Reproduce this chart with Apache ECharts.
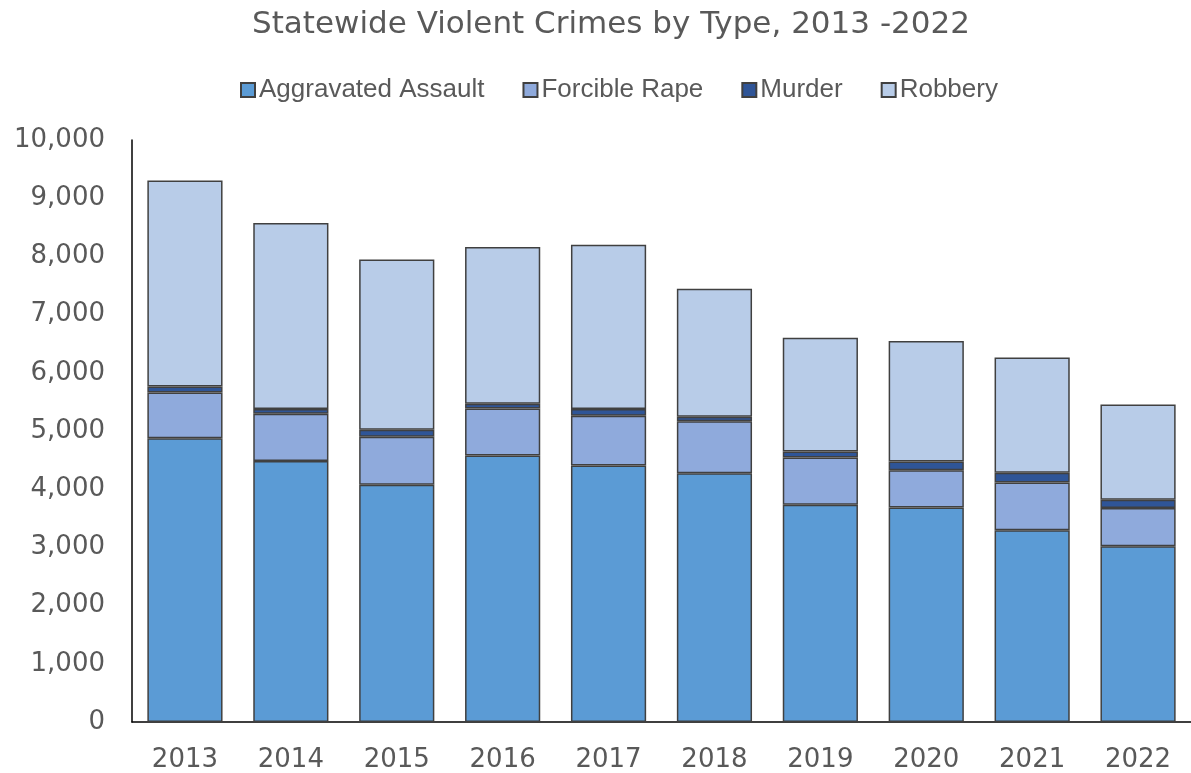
<!DOCTYPE html>
<html>
<head>
<meta charset="utf-8">
<script src="https://cdn.jsdelivr.net/npm/echarts@6/dist/echarts.min.js"></script>
<style>html,body{margin:0;padding:0;background:#fff}#c{width:1191px;height:773px}</style>
</head>
<body>
<div id="c"></div>
<script>
const years = ['2013','2014','2015','2016','2017','2018','2019','2020','2021','2022'];
const aggravatedAssault = [4875, 4486, 4075, 4577, 4406, 4275, 3733, 3687, 3293, 3019];
const forcibleRape      = [788, 810, 828, 811, 856, 891, 810, 640, 822, 657];
const murder            = [102, 81, 120, 80, 115, 79, 103, 148, 166, 142];
const robbery           = [3538, 3196, 2922, 2694, 2825, 2198, 1958, 2072, 1981, 1639];
const yTicks = [0,1000,2000,3000,4000,5000,6000,7000,8000,9000,10000];

const FONT = '"Liberation Sans", Arial, sans-serif';
const WIDE = '"DejaVu Sans", sans-serif';
const TXT = '#595959';
const chart = echarts.init(document.getElementById('c'), null, {renderer:'canvas'});
function s(name, data, color){
  return {name, type:'bar', stack:'total', data, barCategoryGap:'29%',
    itemStyle:{color, borderColor:'#404040', borderWidth:1.5}};
}
chart.setOption({
  animation:false,
  backgroundColor:'#fff',
  title:{text:'Statewide Violent Crimes by Type, 2013 -2022', left:247, top:4,
    textStyle:{fontFamily:WIDE, fontSize:31, fontWeight:'normal', color:TXT}},
  legend:{top:72, left:235, itemWidth:14, itemHeight:14, itemGap:38,
    icon:'rect',
    textStyle:{fontFamily:FONT, fontSize:26, color:TXT, padding:[0,0,0,-1]},
    data:['Aggravated Assault','Forcible Rape','Murder','Robbery']},
  grid:{left:132, right:-10, top:140, bottom:49, containLabel:false},
  xAxis:{type:'category', data:years,
    axisLine:{lineStyle:{color:'#000', width:1.5}}, axisTick:{show:false},
    axisLabel:{fontFamily:WIDE, fontSize:26, color:TXT, margin:25}},
  yAxis:{type:'value', min:yTicks[0], max:yTicks[yTicks.length-1], interval:1000,
    axisLine:{show:true, lineStyle:{color:'#000', width:1.5}}, axisTick:{show:false},
    splitLine:{show:false},
    axisLabel:{fontFamily:WIDE, fontSize:26, color:TXT, margin:27,
      formatter:v=>v.toLocaleString('en-US')}},
  series:[
    s('Aggravated Assault', aggravatedAssault, '#5B9BD5'),
    s('Forcible Rape', forcibleRape, '#8FAADC'),
    s('Murder', murder, '#2F5597'),
    s('Robbery', robbery, '#B8CCE8')
  ]
});
</script>
</body>
</html>
